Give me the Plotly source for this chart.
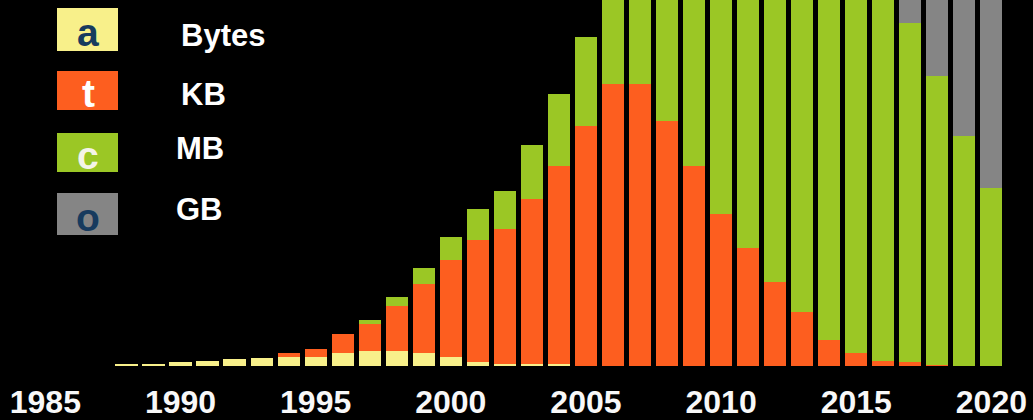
import plotly.graph_objects as go

# ---- data (upper parts beyond the frame are estimates) ----
years = list(range(1988, 2021))
bytes_vals = [2.5, 2.5, 4.3, 5.3, 6.7, 7.7, 8.7, 8.7, 13, 15, 15, 12.7, 8.7, 4, 2, 2, 2, 0.5,
              0, 0, 0, 0, 0, 0, 0, 0, 0, 0, 0, 0, 0, 0, 0]
kb_vals = [0, 0, 0, 0, 0, 0, 4, 8.3, 18.7, 26.7, 45.5, 69, 97.5, 122, 134.7, 164.7, 198.3, 240,
           281.7, 282, 245, 200.5, 151.7, 118.3, 84.3, 53.7, 26, 12.7, 5.5, 3.7, 1, 0, 0]
mb_vals = [0, 0, 0, 0, 0, 0, 0, 0, 0, 4.3, 8.3, 16, 22.7, 30.7, 38.6, 54.6, 71.4, 88.3,
           118, 188, 295, 400, 508, 592, 676, 746, 814, 857, 894, 339, 289, 230, 178]
gb_vals = [0] * 29 + [587, 670, 760, 842]

series_names = ["Bytes", "KB", "MB", "GB"]
series_letters = ["a", "t", "c", "o"]
series_colors = ["#f8f08a", "#fd5e1f", "#9bc725", "#858585"]
letter_colors = ["#173b5e", "#ffffff", "#f4f4e8", "#173b5e"]

tick_years = [1985, 1990, 1995, 2000, 2005, 2010, 2015, 2020]
tick_labels = ["1985", "1990", "1995", "2000", "2005", "2010", "2015", "2020"]

# ---- figure ----
W, H = 1033, 420
PLOT_BOTTOM = 366  # pixel row of the baseline

fig = go.Figure()
for name, vals, col in zip(series_names, [bytes_vals, kb_vals, mb_vals, gb_vals], series_colors):
    fig.add_trace(go.Bar(x=years, y=vals, name=name, marker=dict(color=col, line=dict(width=0)),
                         width=0.82, showlegend=False, hoverinfo="x+y+name"))


def py(y_px):
    """pixel row -> paper y"""
    return (PLOT_BOTTOM - y_px) / PLOT_BOTTOM


def px(x_px):
    return x_px / W


# custom legend: coloured boxes with a letter, label to the right
box_rows = [(8, 51), (71, 110), (133, 172), (193, 235)]
label_x = [179, 179, 174, 174]
label_y = [35, 95, 148, 209]
shapes = []
annotations = []
for i, (y0, y1) in enumerate(box_rows):
    shapes.append(dict(type="rect", xref="paper", yref="paper",
                       x0=px(57), x1=px(118), y0=py(y1), y1=py(y0),
                       fillcolor=series_colors[i], line=dict(width=0), layer="above"))
    annotations.append(dict(xref="paper", yref="paper", x=px(88), y=py((y0 + y1) / 2 + 3),
                            text=series_letters[i], showarrow=False, xanchor="center", yanchor="middle",
                            font=dict(family="Liberation Sans", size=39, color=letter_colors[i], weight="bold")))
    annotations.append(dict(xref="paper", yref="paper", x=px(label_x[i]), y=py(label_y[i]),
                            text=series_names[i], showarrow=False, xanchor="left", yanchor="middle",
                            font=dict(family="Liberation Sans", size=31, color="#ffffff", weight="bold")))

x0 = 1990 - 180.5 / 27.03
x1 = 1990 + (W - 180.5) / 27.03
fig.update_layout(
    width=W, height=H,
    margin=dict(l=0, r=0, t=0, b=H - PLOT_BOTTOM, pad=0),
    paper_bgcolor="#000000", plot_bgcolor="#000000",
    barmode="stack", bargap=0.18,
    shapes=shapes, annotations=annotations,
    xaxis=dict(range=[x0, x1], tickmode="array", tickvals=tick_years, ticktext=tick_labels,
               showgrid=False, zeroline=False, showline=False, ticks="",
               ticklabelstandoff=14, ticklabeloverflow="allow",
               tickfont=dict(family="Liberation Sans", size=32, color="#f8f8f8", weight="bold")),
    yaxis=dict(range=[0, PLOT_BOTTOM], visible=False, showgrid=False, zeroline=False),
)

fig.write_html("out.html")
